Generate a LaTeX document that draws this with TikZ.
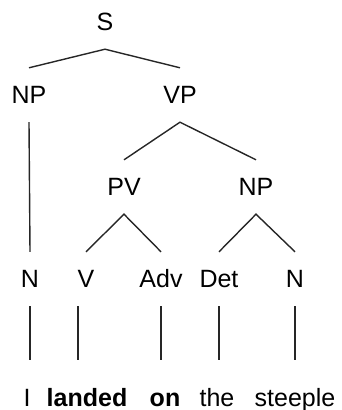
\documentclass[tikz,border=0pt]{standalone}
\usepackage{fontspec}
\setmainfont{Liberation Sans}
\usetikzlibrary{positioning}

\begin{document}
\begin{tikzpicture}[
    x=1pt, y=-1pt,
    every node/.style={font=\fontsize{25}{30}\selectfont},
    cat/.style ={inner sep=0pt, minimum height=54pt},
    word/.style={anchor=base, inner xsep=0pt, inner ysep=29pt,
                 text height=17pt, text depth=5pt},
    branch/.style={line width=1.4pt, black!85},
]
\useasboundingbox (0,0) rectangle (342,410);
% --- phrase levels ---
\node[cat] (s)   at (105,22)  {S};
\node[cat] (np1) at (29,95)   {NP};
\node[cat] (vp)  at (180,95)  {VP};
\node[cat] (pv)  at (124,187) {PV};
\node[cat] (np2) at (256,187) {NP};
% --- word classes ---
\node[cat] (n1)  at (30,279)  {N};
\node[cat] (v)   at (86,279)  {V};
\node[cat] (adv) at (161,279) {Adv};
\node[cat] (det) at (219,279) {Det};
\node[cat] (n2)  at (295,279) {N};
% --- the sentence ---
\node[word] (w1) at (27,406)  {I};
\node[word] (w2) at (87,406)  {\textbf{landed}};
\node[word] (w3) at (165,406) {\textbf{on}};
\node[word] (w4) at (217,406) {the};
\node[word] (w5) at (295,406) {steeple};
% branches
\draw[branch] (np1.north) -- (s.south) -- (vp.north);
\draw[branch] (pv.north)  -- (vp.south) -- (np2.north);
\draw[branch] (v.north)   -- (pv.south) -- (adv.north);
\draw[branch] (det.north) -- (np2.south) -- (n2.north);
\draw[branch] (np1.south) -- (n1.north);
% leaves
\draw[branch] (n1.south)  -- (n1.south |- w1.north);
\draw[branch] ([xshift=-8pt]v.south) -- ([xshift=-8pt]v.south |- w2.north);
\draw[branch] (adv.south) -- (adv.south |- w3.north);
\draw[branch] (det.south) -- (det.south |- w4.north);
\draw[branch] (n2.south)  -- (n2.south |- w5.north);
\end{tikzpicture}
\end{document}
